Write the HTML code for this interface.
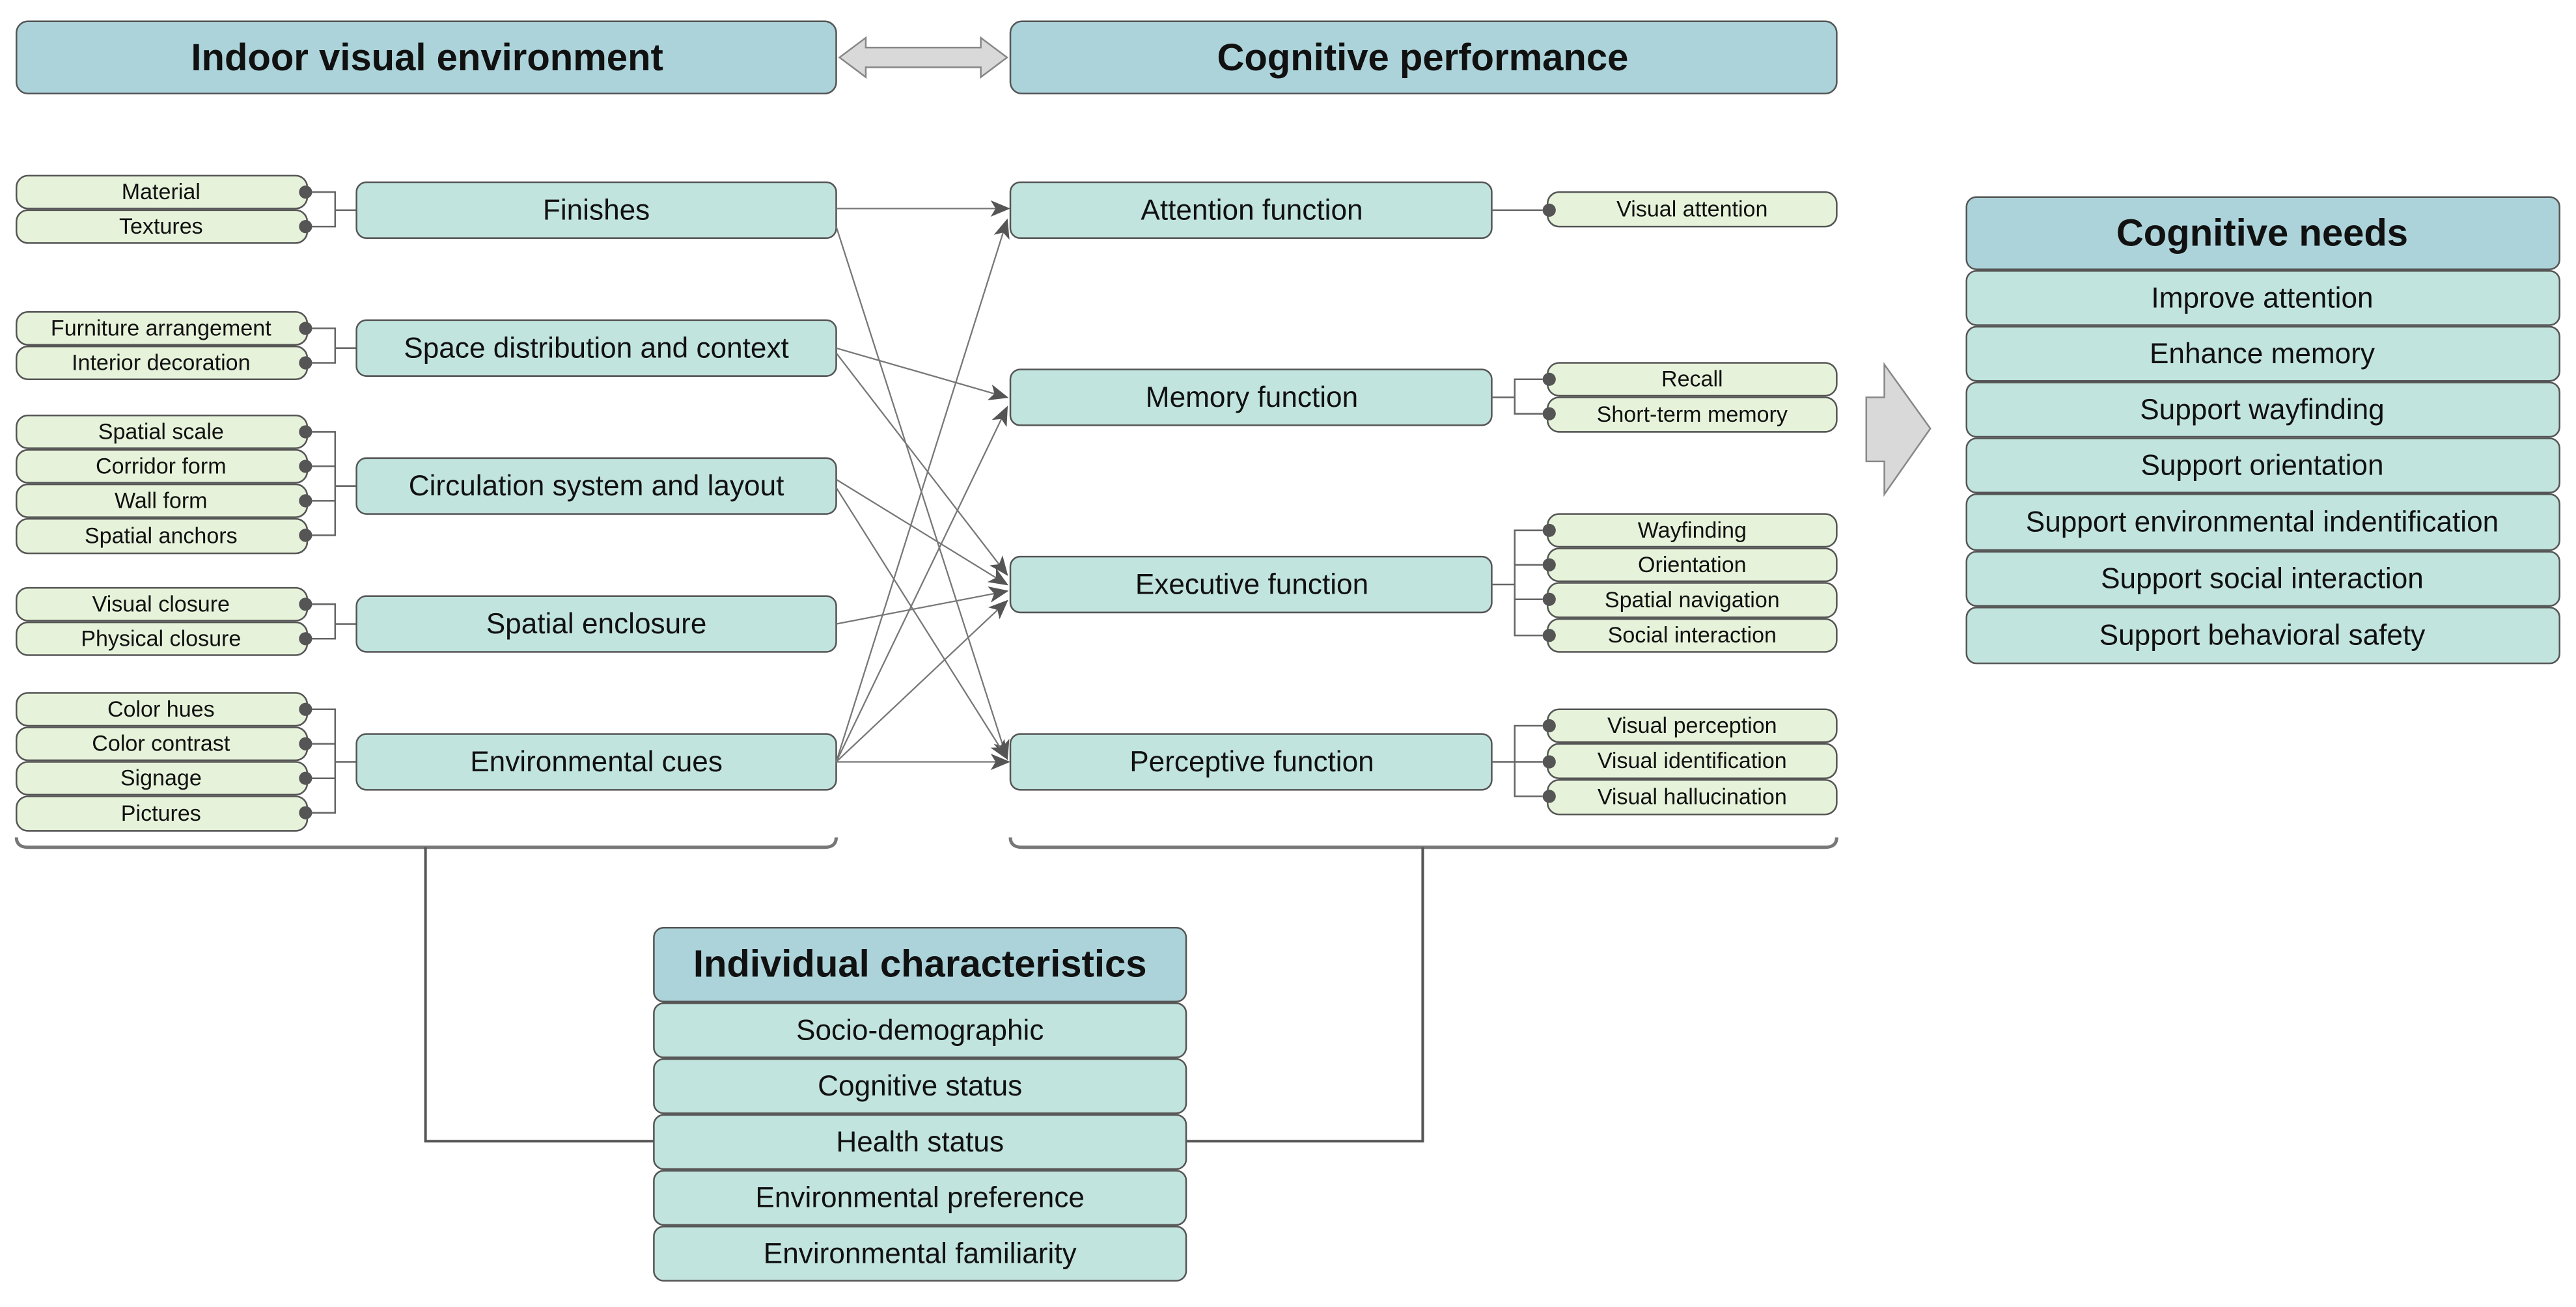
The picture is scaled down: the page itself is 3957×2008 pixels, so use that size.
<!DOCTYPE html>
<html><head><meta charset="utf-8">
<style>
html,body{margin:0;padding:0;background:#fff;}
svg{display:block;}
text{font-family:"Liberation Sans",Arial,sans-serif;fill:#111;}
</style></head>
<body>
<svg width="3957" height="2008" viewBox="0 0 1568 796" preserveAspectRatio="none" xmlns="http://www.w3.org/2000/svg">
<defs>
<marker id="ah" markerWidth="12" markerHeight="10" refX="11" refY="5" orient="auto" markerUnits="userSpaceOnUse">
<path d="M0,0 L12,5 L0,10 L3,5 Z" fill="#555"/>
</marker>
</defs>
<style>
.hd{fill:#acd3da;stroke:#555;stroke-width:1;}
.bx{fill:#c2e4de;stroke:#555;stroke-width:1;}
.it{fill:#e6f3da;stroke:#555;stroke-width:1;}
.ln{stroke:#777;stroke-width:0.9;fill:none;}
.br{stroke:#666;stroke-width:1;fill:none;}
.t1{font-size:23px;font-weight:bold;text-anchor:middle;dominant-baseline:central;}
.t2{font-size:17.5px;text-anchor:middle;dominant-baseline:central;}
.t3{font-size:13.5px;text-anchor:middle;dominant-baseline:central;}
.dot{fill:#555;}
</style>

<!-- Top headers -->
<rect class="hd" x="10" y="13" width="499" height="44" rx="7"/>
<text class="t1" x="260" y="35">Indoor visual environment</text>
<rect class="hd" x="615" y="13" width="503" height="44" rx="7"/>
<text class="t1" x="866" y="35">Cognitive performance</text>
<polygon points="511,35 527,23 527,29 597,29 597,23 613,35 597,47 597,41 527,41 527,47" fill="#d9d9d9" stroke="#888" stroke-width="1"/>

<!-- Left item groups -->
<g>
<!-- Finishes -->
<rect class="it" x="10" y="107" width="177" height="20" rx="7"/><text class="t3" x="98" y="117">Material</text>
<rect class="it" x="10" y="128" width="177" height="20" rx="7"/><text class="t3" x="98" y="138">Textures</text>
<circle class="dot" cx="186" cy="117" r="4"/><circle class="dot" cx="186" cy="138" r="4"/>
<path class="br" d="M190,117 H204 V138 H190 M204,128 H217"/>
<rect class="bx" x="217" y="111" width="292" height="34" rx="6"/><text class="t2" x="363" y="128">Finishes</text>

<!-- Space distribution -->
<rect class="it" x="10" y="190" width="177" height="20" rx="7"/><text class="t3" x="98" y="200">Furniture arrangement</text>
<rect class="it" x="10" y="211" width="177" height="20" rx="7"/><text class="t3" x="98" y="221">Interior decoration</text>
<circle class="dot" cx="186" cy="200" r="4"/><circle class="dot" cx="186" cy="221" r="4"/>
<path class="br" d="M190,200 H204 V221 H190 M204,212 H217"/>
<rect class="bx" x="217" y="195" width="292" height="34" rx="6"/><text class="t2" x="363" y="212">Space distribution and context</text>

<!-- Circulation -->
<rect class="it" x="10" y="253" width="177" height="20" rx="7"/><text class="t3" x="98" y="263">Spatial scale</text>
<rect class="it" x="10" y="274" width="177" height="20" rx="7"/><text class="t3" x="98" y="284">Corridor form</text>
<rect class="it" x="10" y="295" width="177" height="20" rx="7"/><text class="t3" x="98" y="305">Wall form</text>
<rect class="it" x="10" y="316" width="177" height="21" rx="7"/><text class="t3" x="98" y="326.5">Spatial anchors</text>
<circle class="dot" cx="186" cy="263" r="4"/><circle class="dot" cx="186" cy="284" r="4"/><circle class="dot" cx="186" cy="305" r="4"/><circle class="dot" cx="186" cy="326" r="4"/>
<path class="br" d="M190,263 H204 V326 H190 M190,284 H204 M190,305 H204 M204,296 H217"/>
<rect class="bx" x="217" y="279" width="292" height="34" rx="6"/><text class="t2" x="363" y="296">Circulation system and layout</text>

<!-- Enclosure -->
<rect class="it" x="10" y="358" width="177" height="20" rx="7"/><text class="t3" x="98" y="368">Visual closure</text>
<rect class="it" x="10" y="379" width="177" height="20" rx="7"/><text class="t3" x="98" y="389">Physical closure</text>
<circle class="dot" cx="186" cy="368" r="4"/><circle class="dot" cx="186" cy="389" r="4"/>
<path class="br" d="M190,368 H204 V389 H190 M204,380 H217"/>
<rect class="bx" x="217" y="363" width="292" height="34" rx="6"/><text class="t2" x="363" y="380">Spatial enclosure</text>

<!-- Env cues -->
<rect class="it" x="10" y="422" width="177" height="20" rx="7"/><text class="t3" x="98" y="432">Color hues</text>
<rect class="it" x="10" y="443" width="177" height="20" rx="7"/><text class="t3" x="98" y="453">Color contrast</text>
<rect class="it" x="10" y="464" width="177" height="20" rx="7"/><text class="t3" x="98" y="474">Signage</text>
<rect class="it" x="10" y="485" width="177" height="21" rx="7"/><text class="t3" x="98" y="495.5">Pictures</text>
<circle class="dot" cx="186" cy="432" r="4"/><circle class="dot" cx="186" cy="453" r="4"/><circle class="dot" cx="186" cy="474" r="4"/><circle class="dot" cx="186" cy="495" r="4"/>
<path class="br" d="M190,432 H204 V495 H190 M190,453 H204 M190,474 H204 M204,464 H217"/>
<rect class="bx" x="217" y="447" width="292" height="34" rx="6"/><text class="t2" x="363" y="464">Environmental cues</text>
</g>

<!-- Middle boxes -->
<rect class="bx" x="615" y="111" width="293" height="34" rx="6"/><text class="t2" x="762" y="128">Attention function</text>
<rect class="bx" x="615" y="225" width="293" height="34" rx="6"/><text class="t2" x="762" y="242">Memory function</text>
<rect class="bx" x="615" y="339" width="293" height="34" rx="6"/><text class="t2" x="762" y="356">Executive function</text>
<rect class="bx" x="615" y="447" width="293" height="34" rx="6"/><text class="t2" x="762" y="464">Perceptive function</text>

<!-- Right items -->
<rect class="it" x="942" y="117" width="176" height="21" rx="7"/><text class="t3" x="1030" y="127.5">Visual attention</text>
<circle class="dot" cx="943" cy="128" r="4"/>
<path class="br" d="M908,128 H939"/>

<rect class="it" x="942" y="221" width="176" height="20" rx="7"/><text class="t3" x="1030" y="231">Recall</text>
<rect class="it" x="942" y="242" width="176" height="21" rx="7"/><text class="t3" x="1030" y="252.5">Short-term memory</text>
<circle class="dot" cx="943" cy="231" r="4"/><circle class="dot" cx="943" cy="252" r="4"/>
<path class="br" d="M908,242 H922 M939,231 H922 V252 H939"/>

<rect class="it" x="942" y="313" width="176" height="20" rx="7"/><text class="t3" x="1030" y="323">Wayfinding</text>
<rect class="it" x="942" y="334" width="176" height="20" rx="7"/><text class="t3" x="1030" y="344">Orientation</text>
<rect class="it" x="942" y="355" width="176" height="21" rx="7"/><text class="t3" x="1030" y="365.5">Spatial navigation</text>
<rect class="it" x="942" y="377" width="176" height="20" rx="7"/><text class="t3" x="1030" y="387">Social interaction</text>
<circle class="dot" cx="943" cy="323" r="4"/><circle class="dot" cx="943" cy="344" r="4"/><circle class="dot" cx="943" cy="365" r="4"/><circle class="dot" cx="943" cy="387" r="4"/>
<path class="br" d="M908,356 H922 M939,323 H922 V387 H939 M922,344 H939 M922,365 H939"/>

<rect class="it" x="942" y="432" width="176" height="20" rx="7"/><text class="t3" x="1030" y="442">Visual perception</text>
<rect class="it" x="942" y="453" width="176" height="21" rx="7"/><text class="t3" x="1030" y="463.5">Visual identification</text>
<rect class="it" x="942" y="475" width="176" height="21" rx="7"/><text class="t3" x="1030" y="485.5">Visual hallucination</text>
<circle class="dot" cx="943" cy="442" r="4"/><circle class="dot" cx="943" cy="464" r="4"/><circle class="dot" cx="943" cy="485" r="4"/>
<path class="br" d="M908,464 H939 M939,442 H922 V485 H939"/>

<!-- Cross arrows -->
<g class="ln" marker-end="url(#ah)">
<line x1="509" y1="127" x2="614" y2="127"/>
<line x1="509" y1="138" x2="613" y2="462"/>
<line x1="509" y1="212" x2="613" y2="242"/>
<line x1="509" y1="215" x2="613" y2="350"/>
<line x1="509" y1="292" x2="613" y2="356"/>
<line x1="509" y1="297" x2="613" y2="462"/>
<line x1="509" y1="380" x2="613" y2="360"/>
<line x1="509" y1="464" x2="613" y2="134"/>
<line x1="509" y1="464" x2="613" y2="248"/>
<line x1="509" y1="464" x2="613" y2="366"/>
<line x1="509" y1="464" x2="614" y2="464"/>
</g>

<!-- Braces -->
<path d="M10,510 Q10,516 17,516 L502,516 Q509,516 509,510" stroke="#777" stroke-width="2" fill="none"/>
<path d="M615,510 Q615,516 622,516 L1111,516 Q1118,516 1118,510" stroke="#777" stroke-width="2" fill="none"/>
<path d="M259,516 V695 H398 M866,516 V695 H722" stroke="#555" stroke-width="1.6" fill="none"/>

<!-- Individual characteristics -->
<rect class="hd" x="398" y="565" width="324" height="45" rx="6"/><text class="t1" x="560" y="587">Individual characteristics</text>
<rect class="bx" x="398" y="611" width="324" height="33" rx="6"/><text class="t2" x="560" y="627.5">Socio-demographic</text>
<rect class="bx" x="398" y="645" width="324" height="33" rx="6"/><text class="t2" x="560" y="661.5">Cognitive status</text>
<rect class="bx" x="398" y="679" width="324" height="33" rx="6"/><text class="t2" x="560" y="695.5">Health status</text>
<rect class="bx" x="398" y="713" width="324" height="33" rx="6"/><text class="t2" x="560" y="729.5">Environmental preference</text>
<rect class="bx" x="398" y="747" width="324" height="33" rx="6"/><text class="t2" x="560" y="763.5">Environmental familiarity</text>

<!-- Big arrow -->
<polygon points="1136,242 1147,242 1147,222 1175,261 1147,301 1147,281 1136,281" fill="#d9d9d9" stroke="#888" stroke-width="1"/>

<!-- Cognitive needs -->
<rect class="hd" x="1197" y="120" width="361" height="44" rx="6"/><text class="t1" x="1377" y="142">Cognitive needs</text>
<rect class="bx" x="1197" y="165" width="361" height="33" rx="6"/><text class="t2" x="1377" y="181.5">Improve attention</text>
<rect class="bx" x="1197" y="199" width="361" height="33" rx="6"/><text class="t2" x="1377" y="215.5">Enhance memory</text>
<rect class="bx" x="1197" y="233" width="361" height="33" rx="6"/><text class="t2" x="1377" y="249.5">Support wayfinding</text>
<rect class="bx" x="1197" y="267" width="361" height="33" rx="6"/><text class="t2" x="1377" y="283.5">Support orientation</text>
<rect class="bx" x="1197" y="301" width="361" height="34" rx="6"/><text class="t2" x="1377" y="318">Support environmental indentification</text>
<rect class="bx" x="1197" y="336" width="361" height="33" rx="6"/><text class="t2" x="1377" y="352.5">Support social interaction</text>
<rect class="bx" x="1197" y="370" width="361" height="34" rx="6"/><text class="t2" x="1377" y="387">Support behavioral safety</text>
</svg>
</body></html>
